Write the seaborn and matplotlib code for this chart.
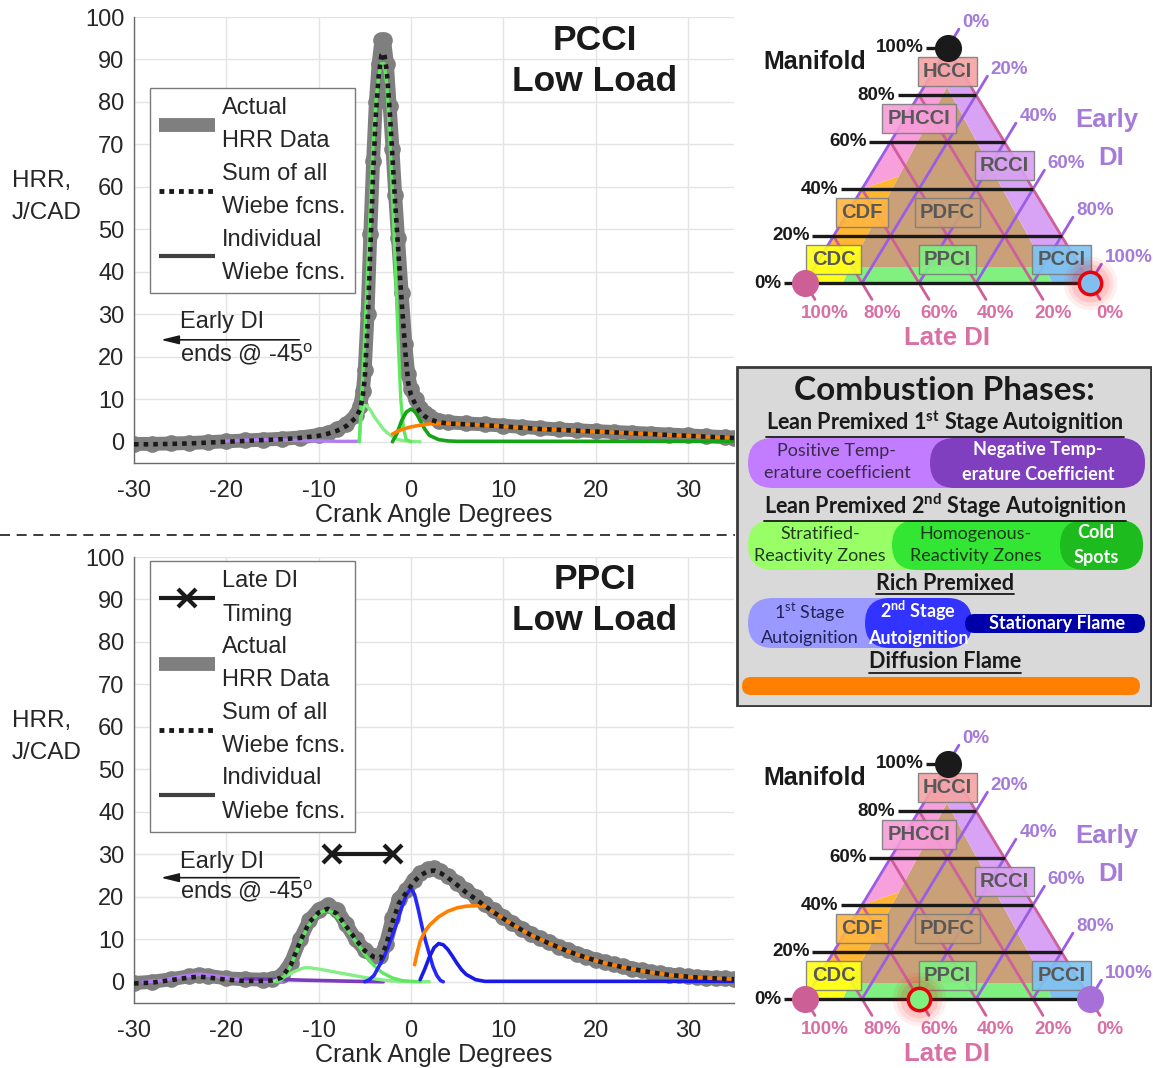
import numpy as np
import matplotlib
matplotlib.use("Agg")
import matplotlib.pyplot as plt
import seaborn as sns
from matplotlib.lines import Line2D
from matplotlib.patches import Polygon, FancyBboxPatch, Rectangle

# ---------------------------------------------------------------- data
XTICKS = [-30, -20, -10, 0, 10, 20, 30]
YTICKS = [0, 10, 20, 30, 40, 50, 60, 70, 80, 90, 100]

# PCCI low load: measured heat release rate and Wiebe fit
PCCI_CA = [-30, -28, -26, -24, -22, -20, -18, -16, -14, -12,
           -10, -9, -8, -7, -6, -5.5, -5.2, -5, -4.7, -4.4,
           -4.1, -3.8, -3.5, -3.2, -2.9, -2.6, -2.3, -2, -1.7, -1.4,
           -1, -0.6, -0.3, 0, 0.5, 1, 1.5, 2, 3, 4,
           6, 8, 10, 12, 14, 16, 18, 20, 22, 24,
           26, 28, 30, 32, 34, 35]
PCCI_HRR = [-0.5, -0.5, -0.4, -0.3, -0.1, 0.1, 0.3, 0.5, 0.7, 1.0,
            1.6, 2.1, 2.9, 4.1, 6.2, 8.5, 12, 17, 30, 49,
            66, 80, 89, 94.5, 94.5, 89, 79, 69, 58, 48,
            35, 23, 16, 12.5, 10, 8, 6.8, 6, 5, 4.6,
            4.3, 4.1, 3.8, 3.5, 3.2, 2.9, 2.7, 2.5, 2.3, 2.1,
            1.9, 1.7, 1.5, 1.3, 1.1, 1.0]
PCCI_SUM = [-0.6, -0.6, -0.5, -0.4, -0.2, 0.0, 0.2, 0.4, 0.6, 0.9,
            1.4, 1.9, 2.6, 3.7, 5.6, 7.6, 11, 15, 27, 45,
            63, 77, 86, 91, 91.5, 87, 78, 67, 56, 46,
            33, 21, 14, 11, 8.7, 7, 6, 5.3, 4.6, 4.3,
            4.1, 3.9, 3.6, 3.3, 3.0, 2.8, 2.6, 2.4, 2.2, 2.0,
            1.8, 1.6, 1.4, 1.2, 1.0, 0.9]
PCCI_PTC_CA = [-20, -18, -16, -14, -12, -10, -8, -5.6]
PCCI_PTC = [0.2, 0.4, 0.5, 0.4, 0.3, 0.2, 0.1, 0.1]
PCCI_SRZ_CA = [-5.6, -5.4, -5.1, -4.8, -4.4, -4, -3.5, -3, -2.5, -2, -1.5, -1, 0, 1]
PCCI_SRZ = [0, 6, 8.5, 8.5, 7.5, 6, 4.5, 3, 2, 1.2, 0.6, 0.3, 0.1, 0]
PCCI_HRZ_CA = [-5.6, -5.3, -5, -4.7, -4.4, -4.1, -3.8, -3.5, -3.2, -2.9,
               -2.6, -2.3, -2, -1.7, -1.4, -1.1, -0.8, -0.5, 0]
PCCI_HRZ = [0, 12, 25, 40, 55, 70, 80, 86, 89, 89,
            84, 72, 58, 42, 25, 10, 3, 0.5, 0]
PCCI_COLD_CA = [-2, -1.5, -1, -0.5, 0, 0.5, 1, 1.5, 2, 3, 4, 5, 35]
PCCI_COLD = [0, 2, 5, 7, 7.7, 7, 5, 3, 1.5, 0.5, 0.2, 0.1, 0.1]
PCCI_DIFF_CA = [-2, -1.5, -1, -0.5, 0, 1, 2, 3, 4, 6, 8, 10, 12, 14, 16,
                18, 20, 22, 24, 26, 28, 30, 32, 34, 35]
PCCI_DIFF = [1.8, 2.4, 2.9, 3.2, 3.5, 3.9, 4.2, 4.3, 4.3, 4.1, 3.9, 3.6, 3.3, 3.0, 2.8,
             2.6, 2.4, 2.2, 2.0, 1.8, 1.6, 1.4, 1.2, 1.0, 0.9]

# PPCI low load: measured heat release rate and Wiebe fit
PPCI_CA = [-30, -28, -26, -24, -23, -22, -20, -18, -16, -15,
           -14, -13, -12, -11, -10, -9, -8, -7, -6, -5,
           -4, -3.3, -2.7, -2, -1.3, -0.5, 0.3, 1, 1.8, 2.5,
           3.2, 4, 5, 6, 7, 8, 9, 10, 11, 12,
           13, 14, 15, 16, 17, 18, 19, 20, 21, 22,
           23, 24, 25, 26, 27, 28, 29, 30, 31, 32,
           33, 34, 35]
PPCI_HRR = [-0.3, 0, 0.6, 1.3, 1.6, 1.4, 0.8, 0.6, 0.5, 0.6,
            1.5, 4.5, 10, 14.5, 17, 18, 17, 13.5, 10, 7.5,
            6, 6, 9, 15, 19.5, 21.5, 24, 25.5, 26.5, 26.8,
            26, 25, 23.3, 21.5, 20, 18.3, 16.8, 15.3, 13.8, 12.5,
            11.3, 10.2, 9.3, 8.3, 7.4, 6.6, 5.9, 5.2, 4.6, 4.1,
            3.6, 3.1, 2.7, 2.3, 2.0, 1.7, 1.5, 1.3, 1.1, 1.0,
            0.9, 0.8, 0.7]
PPCI_SUM = [-0.4, -0.2, 0.4, 1.0, 1.2, 1.0, 0.5, 0.2, 0.2, 0.3,
            1.0, 4.0, 9.5, 14, 16.3, 17.2, 16, 13, 10, 7.3,
            5.8, 5.5, 8.5, 14, 18.5, 21, 23.5, 25, 26, 26.2,
            25.6, 24.5, 22.8, 21, 19.5, 17.9, 16.3, 14.9, 13.5, 12.2,
            11, 10, 9, 8.1, 7.2, 6.4, 5.7, 5, 4.4, 3.9,
            3.4, 3, 2.6, 2.2, 1.9, 1.6, 1.4, 1.2, 1.0, 0.9,
            0.8, 0.7, 0.6]
PPCI_PTC_CA = [-29, -27, -25, -23, -21, -19, -17, -15, -14]
PPCI_PTC = [0, 0.3, 1.2, 1.8, 1.3, 0.6, 0.3, 0.1, 0]
PPCI_NTC_CA = [-18, -15, -12, -9, -6, -3]
PPCI_NTC = [0.7, 0.6, 0.4, 0.25, 0.1, 0]
PPCI_SRZ_CA = [-15, -14, -13, -12, -11.5, -11, -10, -9, -8, -7,
               -6, -5, -4, -3, -2, -1, 0, 2]
PPCI_SRZ = [0, 0.8, 2, 3, 3.3, 3.3, 3, 2.6, 2.2, 1.8,
            1.4, 1, 0.7, 0.4, 0.2, 0.1, 0.05, 0]
PPCI_HRZ_CA = [-14.5, -14, -13.5, -13, -12.5, -12, -11.5, -11, -10.5, -10,
               -9.5, -9, -8.5, -8, -7.5, -7, -6.5, -6, -5.5, -5,
               -4.5, -4, -3.5, -3, -2, -1, 0, 1]
PPCI_HRZ = [0, 0.5, 1.8, 3.8, 6.5, 9, 11.5, 13.5, 15, 16,
            16.6, 16.8, 16.3, 15.3, 14, 12.5, 11, 9.5, 8, 6.5,
            5, 3.8, 2.8, 2, 0.9, 0.3, 0.1, 0]
PPCI_RICH2_CA = [-5, -4.5, -4, -3.5, -3, -2.5, -2, -1.5, -1, -0.5,
                 0, 0.4, 0.8, 1.2, 1.6, 2, 2.4, 2.8, 3.2, 3.5]
PPCI_RICH2 = [0, 0.5, 1.5, 3.5, 5.5, 8, 11, 14, 17.5, 20.5,
              22, 20.5, 17, 13, 9.5, 6.5, 3.5, 1.5, 0.3, 0]
PPCI_STAT_CA = [1, 1.5, 2, 2.5, 3, 3.5, 4, 4.5, 5, 5.5, 6, 7, 8, 35]
PPCI_STAT = [0.5, 3, 5.8, 8, 9, 8.7, 7.6, 6, 4.3, 2.8, 1.7, 0.5, 0.1, 0.1]
PPCI_DIFF_CA = [0.4, 0.7, 1, 1.5, 2, 3, 4, 5, 6, 7, 8,
                9, 10, 11, 12, 13, 14, 15, 16, 17, 18, 19, 20, 21, 22,
                23, 24, 25, 26, 27, 28, 29, 30, 31, 32, 33, 34, 35]
PPCI_DIFF = [4, 7, 9.5, 11.8, 13.3, 15.3, 16.6, 17.4, 17.8, 17.9, 17.8,
             16.3, 14.9, 13.5, 12.2, 11, 10, 9, 8.1, 7.2, 6.4, 5.7, 5, 4.4, 3.9,
             3.4, 3, 2.6, 2.2, 1.9, 1.6, 1.4, 1.2, 1.0, 0.9, 0.8, 0.7, 0.6]
LATE_DI_CA = [-8.6, -1.9]
LATE_DI_MARK = [30, 30]

# combustion-mode map labels
MANIFOLD_PCT = [0, 20, 40, 60, 80, 100]
EARLY_PCT = [0, 20, 40, 60, 80, 100]
LATE_PCT = [100, 80, 60, 40, 20, 0]
MODES = ["HCCI", "PHCCI", "RCCI", "CDF", "PDFC", "CDC", "PPCI", "PCCI"]
MODE_MANIFOLD = [0.9, 0.7, 0.5, 0.3, 0.3, 0.1, 0.1, 0.1]
MODE_EARLY = [0.05, 0.05, 0.45, 0.05, 0.35, 0.05, 0.45, 0.85]

# ---------------------------------------------------------------- colours
C_GRAY = "#7f7f7f"
C_PTC = "#b37cf2"
C_NTC = "#7a3bbd"
C_SRZ = "#86ee86"
C_HRZ = "#5fe85f"
C_COLD = "#17a317"
C_RICH2 = "#2626ff"
C_STAT = "#1a1ae6"
C_DIFF = "#ff8000"
TXT = "#262626"

sns.set_theme(style="whitegrid")
plt.rcParams["font.family"] = ["Liberation Sans", "DejaVu Sans"]
plt.rcParams["axes.unicode_minus"] = False
plt.rcParams["mathtext.fontset"] = "custom"
plt.rcParams["mathtext.rm"] = "Liberation Sans"
plt.rcParams["mathtext.sf"] = "Lato"
plt.rcParams["mathtext.bf"] = "Lato:bold"

W, H = 1153, 1068
fig = plt.figure(figsize=(W / 100, H / 100), dpi=100)
fig.patch.set_facecolor("white")


def px_axes(l, t, r, b):
    return fig.add_axes([l / W, 1 - b / H, (r - l) / W, (b - t) / H])


def curve(ax, x, y, **kw):
    sns.lineplot(x=np.asarray(x, float), y=np.asarray(y, float), ax=ax,
                 estimator=None, sort=False, **kw)


def style_hrr(ax):
    ax.set_xlim(-30, 35)
    ax.set_ylim(-5, 100)
    ax.set_xticks(XTICKS)
    ax.set_yticks(YTICKS)
    ax.set_facecolor("white")
    ax.grid(True, color="#e4e4e4", lw=1)
    for s in ["top", "right"]:
        ax.spines[s].set_visible(False)
    for s in ["left", "bottom"]:
        ax.spines[s].set_color("#6a6a6a")
        ax.spines[s].set_linewidth(1)
    ax.tick_params(direction="in", length=6, width=1, color="#6a6a6a",
                   labelsize=17, labelcolor=TXT)
    ax.tick_params(axis="x", pad=12)
    ax.tick_params(axis="y", pad=7)
    ax.set_xlabel("Crank Angle Degrees", fontsize=18, color=TXT, labelpad=1)
    ax.set_ylabel("")


def early_di_note(ax, y_arrow, y_top, y_bot):
    ax.annotate("", xy=(-27.4, y_arrow), xytext=(-11.8, y_arrow),
                arrowprops=dict(arrowstyle="-|>,head_length=0.9,head_width=0.22",
                                color="k", lw=1.2))
    ax.text(-25.0, y_top, "Early DI", fontsize=17, color=TXT, va="center")
    ax.text(-25.0, y_bot, "ends @ -45$^{\\mathrm{o}}$", fontsize=17, color=TXT, va="center")


def hrr_legend(ax, handles, labels, top):
    leg = ax.legend(handles, labels, loc="upper left", bbox_to_anchor=(0.0267, top),
                    borderaxespad=0, fontsize=17, frameon=True, fancybox=False,
                    edgecolor="#7a7a7a", framealpha=1, handlelength=2.35,
                    handletextpad=0.3, labelspacing=0.45, borderpad=0.4)
    leg.get_frame().set_linewidth(1)
    for t in leg.get_texts():
        t.set_linespacing(1.65)
        t.set_color(TXT)


h_actual = Line2D([], [], color=C_GRAY, lw=10, solid_capstyle="butt")
h_sum = Line2D([], [], color="k", lw=3.5, ls=(0, (1, 1)))
h_ind = Line2D([], [], color="#404040", lw=3, solid_capstyle="butt")
h_late = Line2D([], [], color="k", lw=3, marker="x", ms=13, mew=3, solid_capstyle="butt")

# ---------------------------------------------------------------- PCCI panel
ax1 = px_axes(134, 17, 734, 463)
curve(ax1, PCCI_CA, PCCI_HRR, color=C_GRAY, lw=10, marker="o", markersize=12,
      markeredgewidth=0, zorder=2)
curve(ax1, PCCI_PTC_CA, PCCI_PTC, color=C_PTC, lw=2.4, zorder=3)
curve(ax1, PCCI_SRZ_CA, PCCI_SRZ, color=C_SRZ, lw=2.4, zorder=3)
curve(ax1, PCCI_HRZ_CA, PCCI_HRZ, color=C_HRZ, lw=2.4, zorder=3)
curve(ax1, PCCI_COLD_CA, PCCI_COLD, color=C_COLD, lw=2.6, zorder=3)
curve(ax1, PCCI_DIFF_CA, PCCI_DIFF, color=C_DIFF, lw=2.6, zorder=3)
curve(ax1, PCCI_CA, PCCI_SUM, color="k", lw=3.3, linestyle=(0, (1, 1.1)), zorder=4)
style_hrr(ax1)
hrr_legend(ax1, [h_actual, h_sum, h_ind],
           ["Actual\nHRR Data", "Sum of all\nWiebe fcns.", "Individual\nWiebe fcns."], 0.841)
early_di_note(ax1, 24, 28.2, 20.5)

# ---------------------------------------------------------------- PPCI panel
ax2 = px_axes(134, 557, 734, 1003)
curve(ax2, PPCI_CA, PPCI_HRR, color=C_GRAY, lw=10, marker="o", markersize=12,
      markeredgewidth=0, zorder=2)
curve(ax2, PPCI_PTC_CA, PPCI_PTC, color=C_PTC, lw=2.6, zorder=3)
curve(ax2, PPCI_NTC_CA, PPCI_NTC, color=C_NTC, lw=2.6, zorder=3)
curve(ax2, PPCI_SRZ_CA, PPCI_SRZ, color=C_SRZ, lw=2.4, zorder=3)
curve(ax2, PPCI_HRZ_CA, PPCI_HRZ, color=C_HRZ, lw=2.4, zorder=3)
curve(ax2, PPCI_RICH2_CA, PPCI_RICH2, color=C_RICH2, lw=2.6, zorder=3)
curve(ax2, PPCI_STAT_CA, PPCI_STAT, color=C_STAT, lw=2.6, zorder=3)
curve(ax2, PPCI_DIFF_CA, PPCI_DIFF, color=C_DIFF, lw=2.6, zorder=3)
curve(ax2, PPCI_CA, PPCI_SUM, color="k", lw=3.3, linestyle=(0, (1, 1.1)), zorder=4)
curve(ax2, LATE_DI_CA, LATE_DI_MARK, color="k", lw=3, marker="x", markersize=13,
      markeredgewidth=3, markeredgecolor="k", zorder=5)
style_hrr(ax2)
hrr_legend(ax2, [h_late, h_actual, h_sum, h_ind],
           ["Late DI\nTiming", "Actual\nHRR Data", "Sum of all\nWiebe fcns.",
            "Individual\nWiebe fcns."], 0.991)
early_di_note(ax2, 24.5, 28.2, 21.2)

for yc, name in [(61, "PCCI\nLow Load"), (600, "PPCI\nLow Load")]:
    fig.text(595 / W, 1 - yc / H, name, ha="center", va="center", fontsize=25.5,
             fontweight="bold", color="k", linespacing=1.3)
for yc in (197, 737):
    fig.text(12 / W, 1 - yc / H, "HRR,\nJ/CAD", ha="left", va="center",
             fontsize=17.5, color=TXT, linespacing=1.6)

fig.add_artist(Line2D([0, 735 / W], [1 - 535 / H, 1 - 535 / H], transform=fig.transFigure,
                      color="k", lw=1.2, ls=(0, (6, 4))))

# ---------------------------------------------------------------- mode maps
ZONE_FILL = [
    ("#c9a077", [(0.158, 0.068), (0.842, 0.068), (0.498, 0.834)]),
    ("#80f080", [(0.133, 0), (0.867, 0), (0.842, 0.068), (0.158, 0.068)]),
    ("#ffff1a", [(0, 0), (0.133, 0), (0.158, 0.068), (0.196, 0.153), (0.0765, 0.153)]),
    ("#ffb733", [(0.0765, 0.153), (0.196, 0.153), (0.33, 0.455), (0.2, 0.40)]),
    ("#f7a0dc", [(0.2, 0.40), (0.33, 0.455), (0.498, 0.834), (0.5, 0.87), (0.5, 1)]),
    ("#d9a3f5", [(0.5, 1), (0.5, 0.87), (0.498, 0.834), (0.804, 0.153), (0.9235, 0.153)]),
    ("#80c0f0", [(0.867, 0), (1, 0), (0.9235, 0.153), (0.804, 0.153), (0.842, 0.068)]),
]
MODE_FACE = ["#f4a3a3", "#f79cd9", "#d8a0f0", "#ffb540", "#c9a077", "#ffff1a", "#80f080", "#80c2f0"]
C_EARLY = "#9b5de5"
C_EARLY_T = "#a57ad9"
C_LATE = "#cf5f9b"
C_LATE_T = "#d870a6"


def tern(m, e):
    return e + m / 2.0, m


def mode_map(top, bottom, origin_y, right_dot, ring_xy, ring_face):
    ax = px_axes(745, top, 1153, bottom)
    ax.set_xlim((745 - 805) / 285, (1153 - 805) / 285)
    ax.set_ylim((origin_y - bottom) / 235, (origin_y - top) / 235)
    ax.axis("off")
    for col, pts in ZONE_FILL:
        ax.add_patch(Polygon(pts, closed=True, fc=col, ec="none", zorder=1))
    # manifold fraction levels
    for p in MANIFOLD_PCT:
        m = p / 100
        x0, x1 = m / 2 - 0.075, 1 - m / 2
        ax.plot([x0, x1], [m, m], color="k", lw=2.4, zorder=3, solid_capstyle="butt")
        ax.text(x0 - 0.008, m, f"{p}%", ha="right", va="center", fontsize=13.5,
                fontweight="bold", color="k")
    # early direct-injection fraction lines
    for p in EARLY_PCT:
        e = p / 100
        ext = 0.08
        xa, ya = tern(0, e)
        xb, yb = e + (1 - e + ext) / 2, 1 - e + ext
        ax.plot([xa, xb], [ya, yb], color=C_EARLY, lw=2.0, zorder=2)
        ax.text(xb + 0.012, yb + 0.03, f"{p}%", ha="left", va="center", fontsize=13.5,
                fontweight="bold", color=C_EARLY_T)
    # late direct-injection fraction lines
    for p in LATE_PCT:
        l = p / 100
        xa, ya = (1 - l) / 2, 1 - l
        xb, yb = 1 - l + 0.035, -0.07
        ax.plot([xa, xb], [ya, yb], color=C_LATE, lw=2.0, zorder=2)
        ax.text(1 - l + 0.07, -0.128, f"{p}%", ha="center", va="center", fontsize=13.5,
                fontweight="bold", color=C_LATE_T)
    for name, m, e, fc in zip(MODES, MODE_MANIFOLD, MODE_EARLY, MODE_FACE):
        x, y = tern(m, e)
        ax.text(x, y, name, ha="center", va="center", fontsize=14.5, fontweight="bold",
                color="#585858", zorder=5,
                bbox=dict(boxstyle="square,pad=0.26", fc=fc, ec="#7d7d7d", lw=1, alpha=0.9))
    ax.text(0.035, 0.94, "Manifold", ha="center", va="center", fontsize=18,
            fontweight="bold", color="k")
    ax.text(1.06, 0.694, "Early", ha="center", va="center", fontsize=18.5,
            fontweight="bold", color=C_EARLY_T)
    ax.text(1.074, 0.532, "DI", ha="center", va="center", fontsize=18.5,
            fontweight="bold", color=C_EARLY_T)
    ax.text(0.498, -0.234, "Late DI", ha="center", va="center", fontsize=18.5,
            fontweight="bold", color=C_LATE_T)
    # operating points
    ax.scatter([0.5], [1], s=380, color="k", zorder=6, linewidths=0)
    ax.scatter([0], [0], s=380, color="#cc5f96", zorder=6, linewidths=0)
    if right_dot is not None:
        ax.scatter([1], [0], s=380, color=right_dot, zorder=6, linewidths=0)
    for s, a in [(1500, 0.06), (1100, 0.08), (750, 0.11)]:
        ax.scatter([ring_xy[0]], [ring_xy[1]], s=s, color="red", alpha=a, zorder=6,
                   linewidths=0)
    ax.scatter([ring_xy[0]], [ring_xy[1]], s=260, color=ring_face, edgecolors="#e8000b",
               linewidths=2.5, zorder=7)
    return ax


mode_map(0, 355, 283, None, (1.0, 0.0), "#80c0f0")
mode_map(716, 1068, 999, "#a770d9", (0.4, 0.0), "#80f080")

# ---------------------------------------------------------------- phase legend box
ph = px_axes(736, 366, 1152, 707)
ph.set_xlim(736, 1152)
ph.set_ylim(707, 366)
ph.axis("off")
ph.add_patch(Rectangle((737, 367), 414, 339, fc="#d9d9d9", ec="#3a3a3a", lw=2, zorder=0))


def pill(x0, x1, y0, y1, color, z=1):
    h = y1 - y0
    ph.add_patch(FancyBboxPatch((x0, y0), x1 - x0, h,
                                boxstyle=f"round,pad=0,rounding_size={h / 2}",
                                fc=color, ec="none", zorder=z))


def ptext(x, y, s, color, bold=False, size=13, ls=1.5):
    ph.text(x, y, s, ha="center", va="center", fontsize=size, color=color,
            fontfamily="Lato", fontweight="bold" if bold else "normal",
            linespacing=ls, zorder=5)


ph.text(944, 390, "Combustion Phases:", ha="center", va="center", fontsize=24,
        fontfamily="Lato", fontweight="bold", color="k")
headings = []
for y, s in [(422, "Lean Premixed 1$^{\\mathbf{st}}$ Stage Autoignition"),
             (506, "Lean Premixed 2$^{\\mathbf{nd}}$ Stage Autoignition"),
             (583, "Rich Premixed"),
             (662, "Diffusion Flame")]:
    headings.append(ph.text(945, y, s, ha="center", va="center", fontsize=15.5,
                            fontfamily="Lato", fontweight="bold", color="#1a1a1a"))

pill(748, 1145, 438, 488, "#c27cff")
pill(930, 1145, 438, 488, "#7f3fbf", 2)
ptext(837, 462, "Positive Temp-\nerature coefficient", "#3a2a4a")
ptext(1038, 462, "Negative Temp-\nerature Coefficient", "white", bold=True)

pill(748, 1143, 520, 570, "#99ff66")
pill(892, 1143, 520, 570, "#33e633", 2)
pill(1060, 1143, 520, 570, "#1ebb1e", 3)
ptext(820, 545, "Stratified-\nReactivity Zones", "#223a22")
ptext(976, 545, "Homogenous-\nReactivity Zones", "#1a3a1a")
ptext(1096, 545, "Cold\nSpots", "white", bold=True)

pill(748, 972, 598, 648, "#9999ff")
pill(865, 972, 598, 648, "#3333ff", 2)
pill(965, 1145, 614, 633, "#0000aa", 3)
ptext(810, 623, "1$^{\\mathsf{st}}$ Stage\nAutoignition", "#222255")
ptext(918, 623, "2$^{\\mathbf{nd}}$ Stage\nAutoignition", "white", bold=True)
ptext(1057, 623, "Stationary Flame", "white", bold=True)

pill(742, 1140, 677, 695, "#ff8000")

# underline the section headings
fig.canvas.draw()
inv = ph.transData.inverted()
for t in headings:
    bb = t.get_window_extent()
    (xa, ya), (xb, yb) = inv.transform([(bb.x0, bb.y0), (bb.x1, bb.y0)])
    ph.plot([xa, xb], [ya + 1, ya + 1], color="#1a1a1a", lw=1.3, zorder=5)

fig.savefig("out.png", dpi=100)
